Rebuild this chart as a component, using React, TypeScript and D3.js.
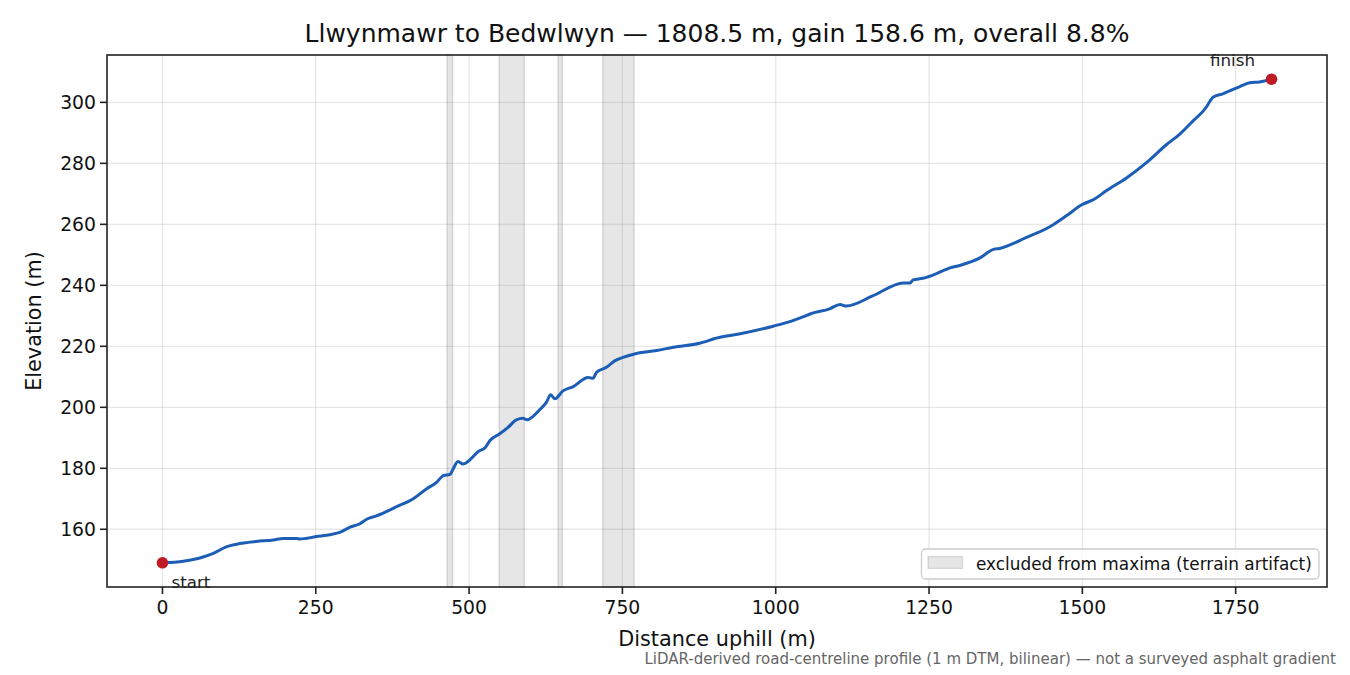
import React from "react";
import * as d3 from "d3";

// profile (distance uphill m, elevation m)
const distances = [
  0, 34, 61, 83, 105, 121, 153, 181, 197, 219, 224, 251, 273, 289, 306, 322, 333, 349, 382, 409,
  431, 447, 458, 469, 474, 482, 490, 501, 515, 526, 534, 550, 564, 577, 588, 594, 615, 626, 633,
  640, 653, 670, 694, 702, 708, 724, 738, 751, 770, 806, 833, 876, 887, 898, 942, 996, 1028, 1045,
  1056, 1088, 1105, 1115, 1159, 1208, 1219, 1224, 1240, 1273, 1284, 1300, 1333, 1354, 1365, 1409,
  1447, 1474, 1499, 1520, 1539, 1572, 1605, 1637, 1659, 1681, 1702, 1708, 1713, 1729, 1756, 1773,
  1789, 1808.5,
];
const elevations = [
  149.0, 149.5, 150.6, 152.1, 154.3, 155.1, 156.0, 156.5, 157.0, 157.0, 156.8, 157.6, 158.2, 159.0,
  160.7, 161.8, 163.3, 164.4, 167.4, 170.0, 173.3, 175.4, 177.6, 178.0, 179.8, 182.2, 181.4, 182.7,
  185.5, 186.7, 189.1, 191.3, 193.5, 195.9, 196.4, 195.9, 199.2, 201.6, 204.1, 202.8, 205.4, 206.8,
  209.8, 209.5, 211.5, 213.1, 215.3, 216.4, 217.5, 218.6, 219.7, 221.0, 221.6, 222.4, 224.1, 226.6,
  228.4, 229.7, 230.6, 232.3, 233.7, 233.2, 236.6, 240.8, 240.8, 241.8, 242.3, 244.8, 245.7, 246.5,
  249.0, 251.7, 252.1, 255.7, 259.2, 262.8, 266.4, 268.3, 271.0, 275.2, 280.3, 286.1, 289.6, 294.0,
  298.4, 300.3, 301.7, 302.8, 305.1, 306.4, 306.7, 307.6,
];

// excluded stretches (terrain artifact)
const bandStarts = [464, 549, 645, 718];
const bandEnds = [473, 590, 652, 769];

const xTicks = [0, 250, 500, 750, 1000, 1250, 1500, 1750];
const yTicks = [160, 180, 200, 220, 240, 260, 280, 300];

const title = "Llwynmawr to Bedwlwyn — 1808.5 m, gain 158.6 m, overall 8.8%";
const note =
  "LiDAR-derived road-centreline profile (1 m DTM, bilinear) — not a surveyed asphalt gradient";

const W = 1350;
const H = 675;
const m = { left: 107, right: 1327, top: 55, bottom: 587 };
const font = "DejaVu Sans, sans-serif";

const App: React.FC = () => {
  const xMin = d3.min(distances)!;
  const xMax = d3.max(distances)!;
  const yMin = d3.min(elevations)!;
  const yMax = d3.max(elevations)!;
  const xPad = (xMax - xMin) * 0.05;
  const yPad = (yMax - yMin) * 0.05;

  const x = d3.scaleLinear().domain([xMin - xPad, xMax + xPad]).range([m.left, m.right]);
  const y = d3.scaleLinear().domain([yMin - yPad, yMax + yPad]).range([m.bottom, m.top]);

  const pts = distances.map((d, i) => [d, elevations[i]] as [number, number]);
  const line = d3
    .line<[number, number]>()
    .x((d) => x(d[0]))
    .y((d) => y(d[1]))
    .curve(d3.curveMonotoneX);

  const last = pts.length - 1;

  return (
    <div style={{ position: "absolute", left: 0, top: 0 }}>
      <svg width={W} height={H} style={{ display: "block", background: "white" }} fontFamily={font}>
        {/* grid */}
        {xTicks.map((t) => (
          <line key={"gx" + t} x1={x(t)} x2={x(t)} y1={m.top} y2={m.bottom} stroke="#b0b0b0" strokeOpacity={0.3} strokeWidth={1.3} />
        ))}
        {yTicks.map((t) => (
          <line key={"gy" + t} x1={m.left} x2={m.right} y1={y(t)} y2={y(t)} stroke="#b0b0b0" strokeOpacity={0.3} strokeWidth={1.3} />
        ))}

        {/* excluded bands */}
        {bandStarts.map((s, i) => (
          <rect
            key={"b" + i}
            x={x(s)}
            y={m.top}
            width={x(bandEnds[i]) - x(s)}
            height={m.bottom - m.top}
            fill="#808080"
            fillOpacity={0.2}
            stroke="#808080"
            strokeOpacity={0.25}
            strokeWidth={1.5}
          />
        ))}

        {/* profile */}
        <path d={line(pts) || ""} fill="none" stroke="#1c5db5" strokeWidth={3} strokeLinejoin="round" />

        <circle cx={x(pts[0][0])} cy={y(pts[0][1])} r={5.8} fill="#c01b25" />
        <circle cx={x(pts[last][0])} cy={y(pts[last][1])} r={5.8} fill="#c01b25" />
        <text x={x(pts[0][0]) + 9} y={y(pts[0][1]) + 25} fontSize={16.7} fill="#222">start</text>
        <text x={x(pts[last][0]) - 39} y={y(pts[last][1]) - 13} fontSize={16.7} fill="#222" textAnchor="middle">finish</text>

        {/* spines */}
        <rect x={m.left} y={m.top} width={m.right - m.left} height={m.bottom - m.top} fill="none" stroke="#222" strokeWidth={1.6} />

        {/* x axis */}
        {xTicks.map((t) => (
          <g key={"xt" + t}>
            <line x1={x(t)} x2={x(t)} y1={m.bottom} y2={m.bottom + 7} stroke="#222" strokeWidth={1.6} />
            <text x={x(t)} y={m.bottom + 27} fontSize={18.8} textAnchor="middle" fill="#111">{t}</text>
          </g>
        ))}
        {/* y axis */}
        {yTicks.map((t) => (
          <g key={"yt" + t}>
            <line x1={m.left - 7} x2={m.left} y1={y(t)} y2={y(t)} stroke="#222" strokeWidth={1.6} />
            <text x={m.left - 11} y={y(t) + 7} fontSize={18.8} textAnchor="end" fill="#111">{t}</text>
          </g>
        ))}

        <text x={(m.left + m.right) / 2} y={646} fontSize={20.8} textAnchor="middle" fill="#111">Distance uphill (m)</text>
        <text transform={`translate(41, ${(m.top + m.bottom) / 2}) rotate(-90)`} fontSize={20.8} textAnchor="middle" fill="#111">Elevation (m)</text>
        <text x={(m.left + m.right) / 2} y={42} fontSize={25} textAnchor="middle" fill="#111">{title}</text>
        <text x={1336} y={664} fontSize={15} textAnchor="end" fill="#666">{note}</text>

        {/* legend */}
        <rect x={921.5} y={549} width={397.5} height={30} rx={4} fill="white" fillOpacity={0.8} stroke="#cccccc" strokeWidth={1.3} />
        <rect x={928} y={556.5} width={34.5} height={12} fill="#808080" fillOpacity={0.2} stroke="#808080" strokeOpacity={0.25} strokeWidth={1.3} />
        <text x={976} y={569.5} fontSize={16.9} fill="#111">excluded from maxima (terrain artifact)</text>
      </svg>
    </div>
  );
};

export default App;
